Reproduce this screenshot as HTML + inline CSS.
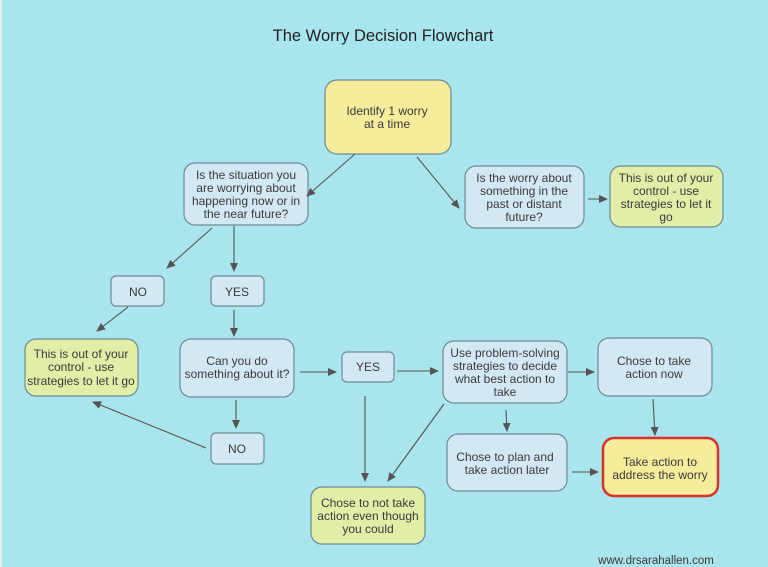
<!DOCTYPE html>
<html><head><meta charset="utf-8"><style>
html,body{margin:0;padding:0;background:#a8e5ec;}
svg{display:block;}
text{font-family:"Liberation Sans",sans-serif;font-size:12px;fill:#3a3a3a;text-anchor:middle;}
.b{fill:#d2e8f4;stroke:#6f8a93;stroke-width:1.2;}
.y{fill:#f7eb9c;stroke:#6f8a93;stroke-width:1.2;}
.g{fill:#e0eea8;stroke:#6f8a93;stroke-width:1.2;}
.r{fill:#f7eb9c;stroke:#d9302c;stroke-width:2.5;}
line{stroke:#555;stroke-width:1.1;marker-end:url(#a);}
</style></head><body>
<svg width="768" height="567" viewBox="0 0 768 567">
<defs><marker id="a" markerWidth="10" markerHeight="10" refX="8" refY="4" orient="auto" markerUnits="userSpaceOnUse"><path d="M0,0 L9,4 L0,8 z" fill="#555"/></marker></defs>
<rect x="0" y="0" width="2" height="567" fill="#e6eef0"/>
<text x="383" y="41" style="font-size:16.5px;fill:#222">The Worry Decision Flowchart</text>

<rect class="y" x="325" y="80" width="126" height="74" rx="12"/>
<text x="387" y="115">Identify 1 worry</text><text x="387" y="128">at a time</text>

<rect class="b" x="184" y="163" width="124" height="62" rx="11"/>
<text x="246" y="179">Is the situation you</text><text x="246" y="192">are worrying about</text><text x="246" y="205">happening now or in</text><text x="246" y="218">the near future?</text>

<rect class="b" x="465" y="166" width="119" height="62" rx="11"/>
<text x="524" y="182">Is the worry about</text><text x="524" y="195">something in the</text><text x="524" y="208">past or distant</text><text x="524" y="221">future?</text>

<rect class="g" x="610" y="166" width="113" height="61" rx="11"/>
<text x="666" y="182">This is out of your</text><text x="666" y="195">control - use</text><text x="666" y="208">strategies to let it</text><text x="666" y="221">go</text>

<rect class="b" x="111" y="276" width="53" height="30" rx="5"/><text x="138" y="296">NO</text>
<rect class="b" x="211" y="276" width="53" height="30" rx="5"/><text x="237" y="296">YES</text>

<rect class="g" x="25" y="339" width="113" height="57" rx="11"/>
<text x="81" y="358">This is out of your</text><text x="81" y="371">control - use</text><text x="81" y="385">strategies to let it go</text>

<rect class="b" x="180" y="339" width="114" height="58" rx="11"/>
<text x="237" y="365">Can you do</text><text x="237" y="378">something about it?</text>

<rect class="b" x="342" y="352" width="52" height="30" rx="5"/><text x="368" y="371">YES</text>

<rect class="b" x="443" y="341" width="124" height="62" rx="11"/>
<text x="505" y="357">Use problem-solving</text><text x="505" y="370">strategies to decide</text><text x="505" y="383">what best action to</text><text x="505" y="396">take</text>

<rect class="b" x="598" y="338" width="114" height="58" rx="11"/>
<text x="654" y="365">Chose to take</text><text x="654" y="378">action now</text>

<rect class="b" x="211" y="433" width="53" height="31" rx="5"/><text x="237" y="453">NO</text>

<rect class="b" x="447" y="434" width="120" height="57" rx="11"/>
<text x="505" y="461">Chose to plan and</text><text x="507" y="474">take action later</text>

<rect class="r" x="603" y="438" width="115" height="58" rx="11"/>
<text x="660" y="466">Take action to</text><text x="660" y="479">address the worry</text>

<rect class="g" x="311" y="487" width="114" height="57" rx="11"/>
<text x="368" y="507">Chose to not take</text><text x="368" y="520">action even though</text><text x="368" y="533">you could</text>

<text x="656" y="564" style="font-size:11.5px">www.drsarahallen.com</text>

<line x1="355" y1="154" x2="307" y2="196"/>
<line x1="417" y1="157" x2="459" y2="208"/>
<line x1="588" y1="199" x2="607" y2="199"/>
<line x1="212" y1="228" x2="167" y2="268"/>
<line x1="234" y1="226" x2="234" y2="271"/>
<line x1="128" y1="307" x2="97" y2="331"/>
<line x1="234" y1="310" x2="234" y2="336"/>
<line x1="300" y1="372" x2="336" y2="372"/>
<line x1="397" y1="371" x2="438" y2="371"/>
<line x1="568" y1="372" x2="594" y2="372"/>
<line x1="653" y1="399" x2="655" y2="435"/>
<line x1="506" y1="410" x2="507" y2="431"/>
<line x1="572" y1="472" x2="598" y2="472"/>
<line x1="365" y1="396" x2="365" y2="481"/>
<line x1="444" y1="404" x2="388" y2="481"/>
<line x1="236" y1="400" x2="236" y2="428"/>
<line x1="206" y1="448" x2="93" y2="402"/>
</svg>
</body></html>
